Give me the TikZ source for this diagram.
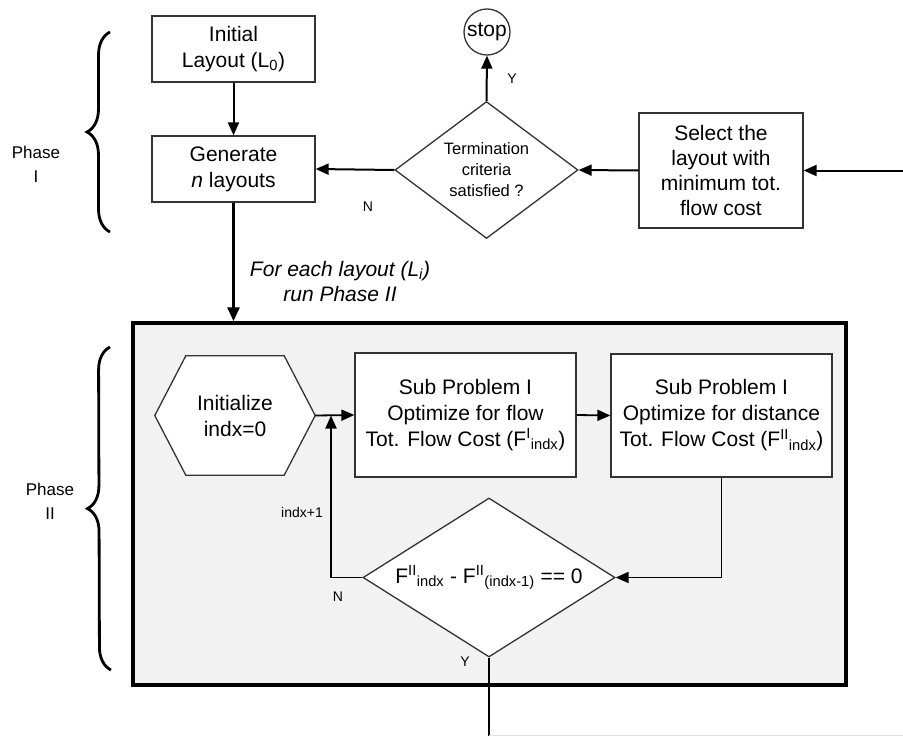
\documentclass[tikz,border=0pt]{standalone}
\usepackage{fontspec}
\setmainfont{Liberation Sans}
\usetikzlibrary{shapes.geometric,arrows.meta,decorations.pathreplacing,calc}
\pgfdeclarelayer{background}
\pgfsetlayers{background,main}
\begin{document}
\begin{tikzpicture}[x=1pt,y=-1pt,
  box/.style={draw=black!80, line width=1.3pt, fill=white, align=center, inner sep=2pt,
    font=\fontsize{21}{26}\selectfont},
  dmd/.style={diamond, draw=black!80, line width=1.3pt, fill=white, align=center, inner sep=0pt},
  arr/.style={line width=2pt, -{Triangle[length=13pt,width=11pt]}},
  arrbig/.style={line width=3pt, -{Triangle[length=14pt,width=12pt]}},
  arrin/.style={line width=1.8pt, -{Triangle[length=13pt,width=11pt]}},
  lbl/.style={font=\fontsize{14}{16}\selectfont, inner sep=0pt},
  phaselbl/.style={font=\fontsize{17}{24}\selectfont, align=center},
  bracestyle/.style={decorate, decoration={brace, amplitude=23pt}, line width=2.8pt}
]
\useasboundingbox (0,0) rectangle (903,736);

% Phase I
\node[box, minimum width=163pt, minimum height=66pt] (init) at (233.5,49) {Initial\\Layout (L\textsubscript{0})};
\node[box, minimum width=163pt, minimum height=66pt] (gen) at (233.5,169) {Generate\\\textit{n} layouts};
\node[circle, draw=black!80, line width=1.3pt, minimum size=46pt, inner sep=0pt,
  font=\fontsize{21}{24}\selectfont] (stop) at (487,32) {stop};
\node[dmd, minimum width=183pt, minimum height=137pt, shape aspect=1.336,
  font=\fontsize{16.5}{21}\selectfont] (term) at (486.5,170) {Termination\\criteria\\satisfied ?};
\node[box, minimum width=164pt, minimum height=115pt, font=\fontsize{21}{25}\selectfont] (sel) at (721,170.5)
  {Select the\\layout with\\minimum tot.\\flow cost};
\coordinate (rin) at (903,170.5);

\node[phaselbl] (ph1) at (36,164) {Phase\\I};
\draw[bracestyle] (110,232) -- (110,32);

% Phase II
\node[align=center, minimum width=160pt, minimum height=119pt, inner sep=0pt,
  font=\fontsize{21}{26}\selectfont] (hex) at (235,415.5) {Initialize\\indx=0};
\node[box, minimum width=221pt, minimum height=124pt] (box1) at (465.5,415)
  {Sub Problem I\\Optimize for flow\\Tot. Flow Cost (F\textsuperscript{I}\textsubscript{indx})};
\node[box, minimum width=221pt, minimum height=123pt] (box2) at (721.5,415.5)
  {Sub Problem I\\Optimize for distance\\Tot. Flow Cost (F\textsuperscript{II}\textsubscript{indx})};
\node[dmd, minimum width=252pt, minimum height=159pt, shape aspect=1.585,
  font=\fontsize{21}{26}\selectfont] (dia) at (489,577.5)
  {\raisebox{6pt}{F\textsuperscript{II}\textsubscript{indx} - F\textsuperscript{II}\textsubscript{(indx-1)} == 0}};

\begin{pgfonlayer}{background}
\node[draw=black, line width=3.5pt, fill=black!5, minimum width=713pt, minimum height=362pt,
  inner sep=0pt] (p2) at (489.5,504) {};
\draw[line width=1.3pt, draw=black!80, fill=white]
  (hex.west) -- ([xshift=31pt]hex.north west) -- ([xshift=-31pt]hex.north east) -- (hex.east)
  -- ([xshift=-31pt]hex.south east) -- ([xshift=31pt]hex.south west) -- cycle;
\end{pgfonlayer}

\node[phaselbl] (ph2) at (50,501) {Phase\\II};
\draw[bracestyle] (111,670) -- (110,347);

\node[font=\itshape\fontsize{21}{25}\selectfont, align=center] (fe) at (340,281)
  {For each layout (L\textsubscript{\itshape i})\\run Phase II};

% connectors
\draw[arr] (init) -- (gen);
\draw[arr] (term.west) -- (gen.east);
\draw[arr] (sel.west) -- (term.east);
\draw[arr] (rin) -- (sel.east);
\draw[arr] (term.north) -- (stop.south);
\draw[arrbig] (gen.south) -- (gen.south |- p2.north);
\draw[arrin] (hex.east) -- (box1.west);
\draw[arrin] (box1.east) -- (box2.west);
\draw[arrin] (box2.south) |- (dia.east);
\coordinate (lp) at (331,577.5);
\draw[arrin] (dia.west) -- (lp) -- (lp |- hex.east);
\coordinate (bot) at (489,735.5);
\coordinate (botr) at (903,735.5);
\draw[line width=1.8pt] (dia.south) -- (bot);
\draw[black!12, line width=1pt] (bot) -- (botr);

% labels
\node[lbl] (lN1) at (368,207) {N};
\node[lbl] (lY1) at (512,79) {Y};
\node[lbl, anchor=east] (lidx) at (323,512) {indx+1};
\node[lbl] (lN2) at (338,597) {N};
\node[lbl] (lY2) at (465,662) {Y};
\end{tikzpicture}
\end{document}
